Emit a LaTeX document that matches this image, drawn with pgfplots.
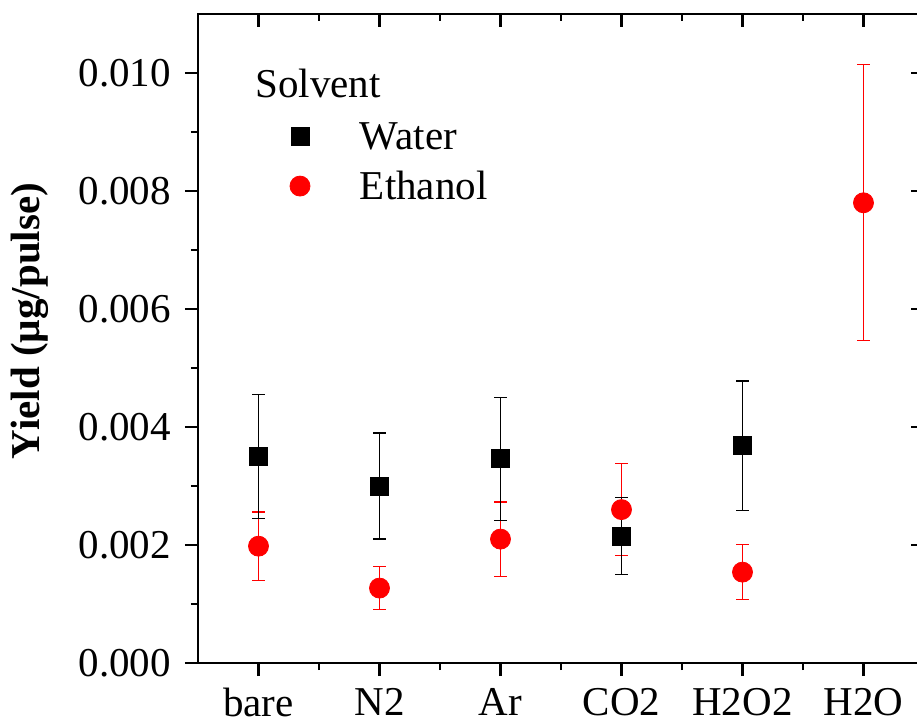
\documentclass[border=0pt]{standalone}
\usepackage{fontspec}
\setmainfont{Liberation Serif}
\usepackage{pgfplots}
\pgfplotsset{compat=1.18}

\pgfplotsset{
  frame/.style={
    width=363pt, height=324.5pt, scale only axis,
    xmin=-0.5, xmax=5.5, ymin=0, ymax=0.011,
    xtick={0,1,2,3,4,5},
    ytick={0,0.002,0.004,0.006,0.008,0.010},
    minor x tick num=1, minor y tick num=1,
    major tick length=6.5pt, minor tick length=3.5pt,
    axis line style={line width=1.3pt},
    every tick/.style={black, line width=1.1pt},
    scaled y ticks=false,
    tick label style={font=\fontsize{20.5}{24}\selectfont},
    yticklabel style={/pgf/number format/.cd, fixed, fixed zerofill, precision=3, assume math mode=true},
  },
}

\begin{document}
\fontsize{20.5}{24}\selectfont
\begin{tikzpicture}
\begin{axis}[frame, name=ax,
  tick align=outside, xtick pos=left, ytick pos=left,
  xticklabels={bare,N2,Ar,CO2,H2O2,H2O},
  xticklabel style={yshift=1pt},
  ylabel={\bfseries Yield (µg/pulse)},
  ylabel style={at={(axis description cs:-0.231,0.527)}, anchor=center},
  reverse legend,
  legend image code/.code={\draw[#1] plot coordinates {(0pt,6.5pt)};\path[draw=none,fill=none] (-9pt,0pt) (30pt,0pt);},
  legend style={draw=none, fill=none, inner sep=0pt, outer sep=0pt,
    at={(axis description cs:0.1157,0.835)}, anchor=north west,
    row sep=0pt, column sep=0pt,
    nodes={inner sep=0pt, text height=14pt, text depth=11pt, anchor=base west},
    font=\fontsize{20.5}{24}\selectfont},
]
% ethanol first so the water points sit on top
\addplot[only marks, mark=*, mark size=5pt, red, fill=red,
  error bars/.cd, y dir=both, y explicit,
  error bar style={red, line width=0.6pt},
  error mark options={rotate=90, mark size=3.2pt, red, line width=0.6pt}]
  coordinates {
  (0,0.00198) +- (0,0.00058)
  (1,0.00127) +- (0,0.00037)
  (2,0.00210) +- (0,0.00063)
  (3,0.00260) +- (0,0.00078)
  (4,0.00154) +- (0,0.00047)
  (5,0.00780) +- (0,0.00234)
};
\addlegendentry{Ethanol}
\addplot[only marks, mark=square*, mark size=4.5pt, black,
  error bars/.cd, y dir=both, y explicit,
  error bar style={black, line width=0.6pt},
  error mark options={rotate=90, mark size=3.2pt, black, line width=0.6pt}]
  coordinates {
  (0,0.00350) +- (0,0.00105)
  (1,0.00300) +- (0,0.00090)
  (2,0.00346) +- (0,0.00104)
  (3,0.00215) +- (0,0.00065)
  (4,0.00368) +- (0,0.00110)
};
\addlegendentry{Water}
\node[anchor=base west, inner sep=0pt] at (axis description cs:0.0785,0.872) {Solvent};
\end{axis}
% mirrored ticks on top and right, pointing inward
\begin{axis}[frame, tick align=inside, xtick pos=right, ytick pos=right,
  xticklabels={}, yticklabels={}]
\end{axis}
\pgfresetboundingbox
\path[use as bounding box] (ax.south west) ++(-99pt,-30.5pt) rectangle ++(458.5pt,362pt);
\end{tikzpicture}
\end{document}
